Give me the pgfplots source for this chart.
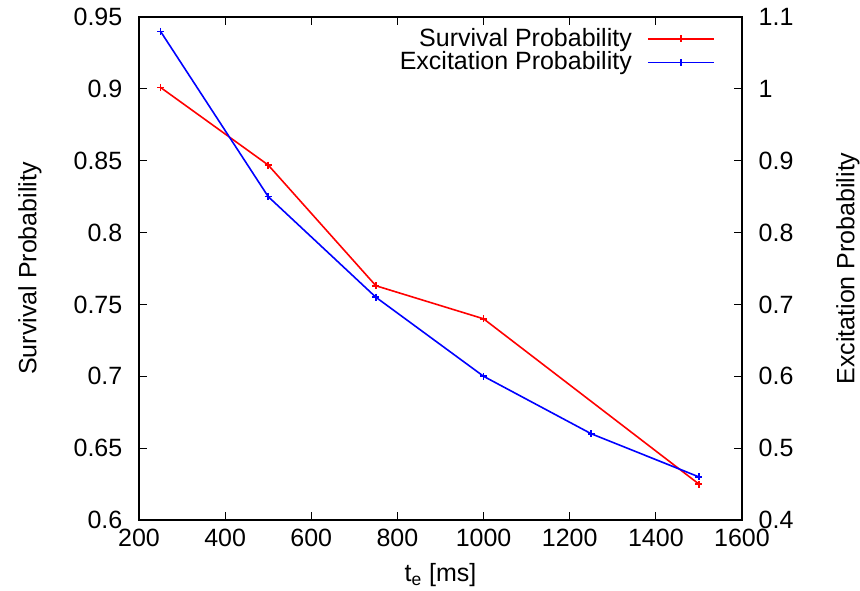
\documentclass[border=0pt]{standalone}
\usepackage{fontspec}
\setmainfont{Liberation Sans}
\usepackage{pgfplots}
\pgfplotsset{compat=1.18}
\begin{document}
\fontsize{12.5bp}{15bp}\selectfont
\begin{tikzpicture}
\pgfplotsset{
  every axis/.append style={
    scale only axis, width=301.5bp, height=251.5bp,
    /pgf/number format/assume math mode=true,
    font=\fontsize{12.5bp}{15bp}\selectfont,
    tick align=inside, major tick length=4bp,
    axis line style={line width=0.75pt}, every tick/.style={black,line width=0.6pt},
    xmin=200, xmax=1600,
  }
}
\begin{axis}[name=ax,
  ymin=0.6, ymax=0.95,
  xtick={200,400,...,1600},
  ytick={0.6,0.65,0.7,0.75,0.8,0.85,0.9,0.95},
  yticklabel style={/pgf/number format/fixed,/pgf/number format/precision=2, xshift=-4bp},
  xtick pos=both, ytick pos=left,
  xticklabel style={/pgf/number format/1000 sep={}},
  xlabel={t\textsubscript{e} [ms]},
  ylabel={Survival Probability},
  xlabel style={at={(axis description cs:0.5,0)}, anchor=center, yshift=-27.5bp},
  ylabel style={at={(axis description cs:0,0.5)}, anchor=center, yshift=54.5bp},
]
\addplot[red, line width=0.8pt, mark=+, mark size=1.75bp] coordinates {
(250,0.901) (500,0.847) (750,0.763) (1000,0.740) (1500,0.625)};
\end{axis}
\begin{axis}[
  ymin=0.4, ymax=1.1,
  hide x axis, axis y line*=right,
  ytick={0.4,0.5,...,1.1},
  yticklabel style={/pgf/number format/fixed,/pgf/number format/precision=1, xshift=4bp},
  ylabel={Excitation Probability},
  ylabel style={at={(axis description cs:1,0.5)}, anchor=center, rotate=0, yshift=-53bp},
  legend style={draw=none, fill=none, at={(axis description cs:0.965,0.995)}, anchor=north east,
    row sep=-3bp, font=\fontsize{12.5bp}{15bp}\selectfont},
  legend cell align=right, legend plot pos=right,
  legend image code/.code={\path (0cm,0cm); \draw[#1, mark repeat=2, mark phase=2] plot coordinates {(0.2cm,0cm) (0.78cm,0cm) (1.36cm,0cm)};},
]
\addlegendimage{red, line width=0.8pt, mark=+, mark size=1.75bp}
\addlegendentry{Survival Probability}
\addlegendimage{blue, line width=0.8pt, mark=+, mark size=1.75bp}
\addlegendentry{Excitation Probability}
\addplot[blue, line width=0.8pt, mark=+, mark size=1.75bp, forget plot] coordinates {
(250,1.08) (500,0.85) (750,0.71) (1000,0.60) (1250,0.52) (1500,0.46)};
\end{axis}
\pgfresetboundingbox
\path ([xshift=-69.5bp,yshift=-35.5bp]ax.south west) rectangle ([xshift=59bp,yshift=8.5bp]ax.north east);
\end{tikzpicture}
\end{document}
